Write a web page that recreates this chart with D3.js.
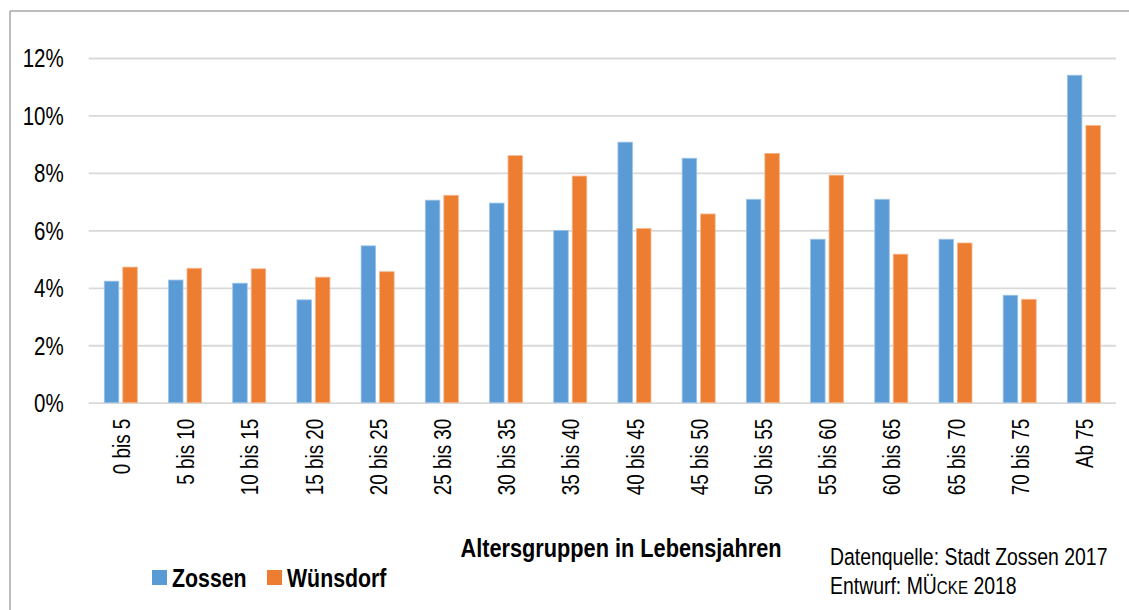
<!DOCTYPE html>
<html><head><meta charset="utf-8">
<script src="https://cdn.jsdelivr.net/npm/d3@7"></script>
<style>
body{margin:0;background:#fff;}
svg{display:block;}
text{font-family:"Liberation Sans",Arial,sans-serif;fill:#000;}
</style></head>
<body>
<svg id="chart" width="1129" height="610"></svg>
<script>
const categories = ["0 bis 5","5 bis 10","10 bis 15","15 bis 20","20 bis 25","25 bis 30","30 bis 35","35 bis 40","40 bis 45","45 bis 50","50 bis 55","55 bis 60","60 bis 65","65 bis 70","70 bis 75","Ab 75"];
const seriesNames = ["Zossen","Wünsdorf"];
const zossen   = [4.23,4.27,4.16,3.58,5.46,7.05,6.95,6.00,9.07,8.51,7.08,5.69,7.08,5.69,3.74,11.40];
const wuensdorf= [4.72,4.68,4.66,4.37,4.56,7.22,8.60,7.89,6.06,6.57,8.68,7.92,5.17,5.56,3.60,9.65];
const yTicks = [0,2,4,6,8,10,12];
const colors = ["#5B9BD5","#ED7D31"];
const strokeColors = ["#9CC3E8","#F5B48A"];

(function(){
const NARROW = 0.82; // condensed look (Arial Narrow substitute)
const svg = d3.select("#chart");
const pLeft = 88.7, pRight = 1116, pTop = 58, pBottom = 402.7;

function addText(parent, tx, ty, size, txt, opts={}){
  const t = parent.append("text")
    .attr("transform",`translate(${tx},${ty})${opts.rotate?` rotate(${opts.rotate})`:""} scale(${NARROW},1)`)
    .attr("font-size",size)
    .attr("text-anchor",opts.anchor||"start");
  if(opts.bold) t.attr("font-weight","bold");
  if(txt!=null) t.text(txt);
  return t;
}

// frame
svg.append("line").attr("x1",10).attr("x2",10).attr("y1",11).attr("y2",610).attr("stroke","#a6a6a6").attr("stroke-width",1.5);
svg.append("line").attr("x1",10).attr("x2",1129).attr("y1",11).attr("y2",11).attr("stroke","#a6a6a6").attr("stroke-width",1.5);

const x = d3.scaleBand().domain(categories).range([pLeft,pRight]).paddingInner(0).paddingOuter(0);
const y = d3.scaleLinear().domain([0,12]).range([pBottom,pTop]);
const inner = d3.scaleBand().domain(seriesNames).range([-16.5,16.5]).paddingInner(0.216).paddingOuter(0);

// gridlines + y labels
const yAxis = d3.axisLeft(y).tickValues(yTicks).tickSize(-(pRight-pLeft)).tickFormat(d=>d+"%");
const gy = svg.append("g").attr("transform",`translate(${pLeft},0)`).call(yAxis);
gy.select(".domain").remove();
gy.selectAll(".tick line").attr("stroke","#d9d9d9").attr("stroke-width",1.8);
gy.selectAll(".tick text")
  .attr("x",0).attr("dy","0.35em")
  .attr("transform",`translate(-25,0) scale(${NARROW},1)`)
  .attr("font-size",25).attr("text-anchor","end")
  .attr("fill","#000").attr("font-family","Liberation Sans, Arial, sans-serif");

// bars
const data = categories.map((c,i)=>({cat:c, vals:[zossen[i],wuensdorf[i]]}));
const groups = svg.append("g").selectAll("g").data(data).join("g")
  .attr("transform",d=>`translate(${x(d.cat)+x.bandwidth()/2},0)`);
groups.selectAll("rect").data(d=>d.vals.map((v,j)=>({v,j}))).join("rect")
  .attr("x",d=>inner(seriesNames[d.j]))
  .attr("width",inner.bandwidth())
  .attr("y",d=>y(d.v))
  .attr("height",d=>y(0)-y(d.v))
  .attr("fill",d=>colors[d.j])
  .attr("stroke",d=>strokeColors[d.j]).attr("stroke-width",0.8);

// x labels
const xAxis = d3.axisBottom(x).tickSize(0);
const gx = svg.append("g").attr("transform",`translate(0,${pBottom})`).call(xAxis);
gx.select(".domain").remove();
gx.selectAll(".tick text")
  .attr("transform",`translate(0,16) rotate(-90) scale(${NARROW},1)`)
  .attr("x",0).attr("y",0).attr("dy","0.4em")
  .attr("text-anchor","end").attr("font-size",23).attr("fill","#000")
  .attr("font-family","Liberation Sans, Arial, sans-serif");

// axis title
addText(svg, 621, 557, 26.5, "Altersgruppen in Lebensjahren", {anchor:"middle", bold:true});

// legend
const legend = svg.append("g");
const legendX = [152, 267];
seriesNames.forEach((s,i)=>{
  legend.append("rect").attr("x",legendX[i]).attr("y",570).attr("width",15).attr("height",15).attr("fill",colors[i]);
  addText(legend, legendX[i]+20, 587, 26, s, {bold:true});
});

// source
addText(svg, 830, 565, 23.7, "Datenquelle: Stadt Zossen 2017");
const t2 = addText(svg, 830, 594, 23.7, null);
t2.append("tspan").text("Entwurf: MÜ");
t2.append("tspan").attr("font-size",18.5).text("CKE");
t2.append("tspan").text(" 2018");
})();
</script>
</body></html>
